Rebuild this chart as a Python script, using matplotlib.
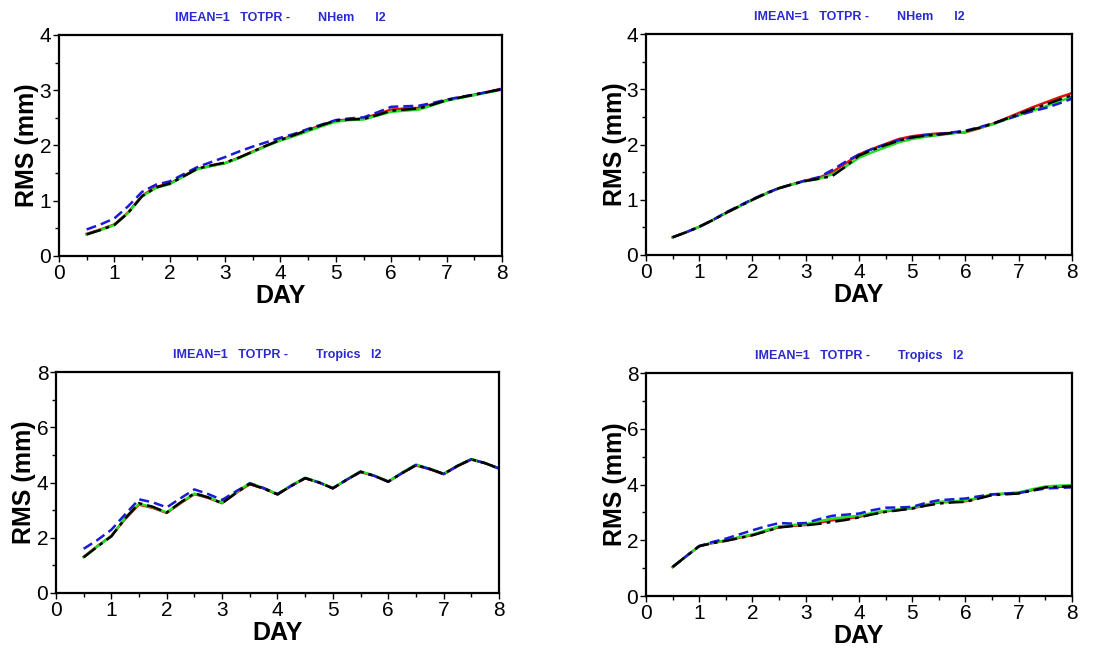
import numpy as np
import matplotlib
matplotlib.use("Agg")
import matplotlib.pyplot as plt
from matplotlib.ticker import MultipleLocator

plt.rcParams['font.family'] = ['Liberation Sans', 'DejaVu Sans']

days = np.arange(0.5, 8.01, 0.25)

# NHem, left column
nh_l_black = [0.39, 0.47, 0.56, 0.78, 1.08, 1.24, 1.31, 1.44, 1.58, 1.64, 1.69, 1.78, 1.89, 2.00, 2.10, 2.19,
              2.28, 2.37, 2.45, 2.47, 2.48, 2.55, 2.63, 2.65, 2.67, 2.74, 2.82, 2.87, 2.92, 2.97, 3.02]
nh_l_red = [0.40, 0.48, 0.57, 0.79, 1.09, 1.25, 1.31, 1.45, 1.58, 1.63, 1.68, 1.78, 1.89, 2.00, 2.10, 2.19,
            2.28, 2.37, 2.45, 2.47, 2.49, 2.57, 2.65, 2.67, 2.68, 2.75, 2.82, 2.87, 2.92, 2.97, 3.03]
nh_l_green = [0.39, 0.47, 0.56, 0.78, 1.08, 1.23, 1.30, 1.44, 1.57, 1.63, 1.68, 1.77, 1.88, 1.99, 2.09, 2.17,
              2.26, 2.35, 2.43, 2.46, 2.47, 2.54, 2.61, 2.63, 2.65, 2.73, 2.81, 2.86, 2.91, 2.96, 3.01]
nh_l_blue = [0.48, 0.57, 0.68, 0.90, 1.16, 1.29, 1.35, 1.48, 1.61, 1.70, 1.79, 1.89, 1.98, 2.06, 2.14, 2.21,
             2.30, 2.38, 2.46, 2.49, 2.51, 2.60, 2.70, 2.71, 2.72, 2.77, 2.83, 2.88, 2.92, 2.97, 3.02]

# NHem, right column
nh_r_black = [0.32, 0.41, 0.51, 0.63, 0.76, 0.88, 1.00, 1.11, 1.21, 1.28, 1.34, 1.38, 1.43, 1.60, 1.80, 1.90,
              1.99, 2.07, 2.13, 2.16, 2.18, 2.21, 2.24, 2.30, 2.37, 2.46, 2.55, 2.64, 2.72, 2.81, 2.89]
nh_r_red = [0.32, 0.41, 0.51, 0.63, 0.76, 0.88, 1.00, 1.11, 1.21, 1.28, 1.35, 1.40, 1.50, 1.66, 1.82, 1.92,
            2.01, 2.10, 2.15, 2.18, 2.20, 2.21, 2.22, 2.29, 2.37, 2.47, 2.57, 2.67, 2.76, 2.85, 2.93]
nh_r_green = [0.32, 0.41, 0.51, 0.63, 0.76, 0.88, 1.00, 1.11, 1.21, 1.28, 1.34, 1.38, 1.46, 1.60, 1.76, 1.86,
              1.95, 2.04, 2.10, 2.14, 2.17, 2.20, 2.23, 2.30, 2.36, 2.45, 2.53, 2.61, 2.69, 2.78, 2.86]
nh_r_blue = [0.32, 0.41, 0.51, 0.63, 0.77, 0.89, 1.01, 1.12, 1.21, 1.28, 1.35, 1.41, 1.54, 1.69, 1.82, 1.92,
             2.00, 2.08, 2.13, 2.17, 2.19, 2.22, 2.25, 2.31, 2.38, 2.45, 2.53, 2.60, 2.66, 2.74, 2.83]

# Tropics, left column
tr_l_black = [1.29, 1.68, 2.05, 2.70, 3.25, 3.12, 2.91, 3.28, 3.61, 3.46, 3.25, 3.62, 3.95, 3.78, 3.57, 3.88,
              4.16, 4.00, 3.79, 4.10, 4.39, 4.24, 4.03, 4.34, 4.63, 4.49, 4.31, 4.60, 4.84, 4.70, 4.51]
tr_l_red = [1.31, 1.70, 2.07, 2.68, 3.20, 3.08, 2.90, 3.25, 3.58, 3.44, 3.25, 3.62, 3.94, 3.78, 3.57, 3.88,
            4.15, 4.00, 3.79, 4.10, 4.38, 4.24, 4.03, 4.34, 4.62, 4.48, 4.30, 4.59, 4.83, 4.70, 4.50]
tr_l_green = [1.30, 1.69, 2.06, 2.72, 3.23, 3.10, 2.92, 3.27, 3.60, 3.46, 3.27, 3.64, 3.98, 3.80, 3.58, 3.90,
              4.17, 4.01, 3.80, 4.11, 4.40, 4.25, 4.04, 4.36, 4.65, 4.50, 4.32, 4.61, 4.85, 4.70, 4.50]
tr_l_blue = [1.60, 1.92, 2.29, 2.85, 3.39, 3.28, 3.10, 3.43, 3.75, 3.58, 3.37, 3.68, 3.97, 3.80, 3.58, 3.88,
             4.16, 4.00, 3.79, 4.10, 4.39, 4.24, 4.03, 4.34, 4.63, 4.49, 4.31, 4.60, 4.84, 4.70, 4.51]

# Tropics, right column
tr_r_black = [1.04, 1.42, 1.79, 1.90, 1.98, 2.08, 2.18, 2.32, 2.46, 2.51, 2.54, 2.59, 2.66, 2.73, 2.82, 2.93,
              3.02, 3.08, 3.14, 3.24, 3.32, 3.36, 3.38, 3.50, 3.62, 3.65, 3.68, 3.79, 3.90, 3.92, 3.94]
tr_r_red = [1.04, 1.42, 1.79, 1.90, 1.99, 2.09, 2.19, 2.33, 2.47, 2.52, 2.55, 2.63, 2.72, 2.77, 2.84, 2.95,
            3.04, 3.09, 3.15, 3.26, 3.36, 3.38, 3.40, 3.52, 3.64, 3.67, 3.70, 3.80, 3.91, 3.92, 3.93]
tr_r_green = [1.04, 1.42, 1.79, 1.91, 2.00, 2.11, 2.21, 2.36, 2.50, 2.55, 2.58, 2.68, 2.78, 2.83, 2.88, 2.98,
              3.06, 3.11, 3.16, 3.28, 3.38, 3.40, 3.42, 3.53, 3.64, 3.68, 3.72, 3.83, 3.93, 3.96, 3.98]
tr_r_blue = [1.04, 1.42, 1.79, 1.94, 2.06, 2.21, 2.36, 2.50, 2.62, 2.60, 2.62, 2.76, 2.88, 2.92, 2.96, 3.08,
             3.17, 3.18, 3.20, 3.34, 3.44, 3.47, 3.50, 3.58, 3.65, 3.68, 3.70, 3.78, 3.86, 3.88, 3.90]

titles = ["IMEAN=1   TOTPR -        NHem      l2",
          "IMEAN=1   TOTPR -        NHem      l2",
          "IMEAN=1   TOTPR -        Tropics   l2",
          "IMEAN=1   TOTPR -        Tropics   l2"]

panels = [
    (nh_l_red, nh_l_green, nh_l_blue, nh_l_black, 4, 0.5),
    (nh_r_red, nh_r_green, nh_r_blue, nh_r_black, 4, 0.5),
    (tr_l_red, tr_l_green, tr_l_blue, tr_l_black, 8, 1),
    (tr_r_red, tr_r_green, tr_r_blue, tr_r_black, 8, 1),
]

# axes rectangles in figure fractions [left, bottom, width, height]
rects = [
    [0.0534, 0.605, 0.4013, 0.341],
    [0.5851, 0.6065, 0.3859, 0.341],
    [0.0507, 0.0849, 0.4013, 0.341],
    [0.5851, 0.0802, 0.3859, 0.344],
]

fig = plt.figure(figsize=(11.04, 6.48), dpi=100)

for i, (red, green, blue, black, ymax, yminor) in enumerate(panels):
    ax = fig.add_axes(rects[i])
    ax.plot(days, red, color='#e01010', lw=1.8, ls='-')
    ax.plot(days, green, color='#20e020', lw=1.8, ls='-')
    ax.plot(days, blue, color='#1a1ad8', lw=1.8, ls=(0, (4, 2)))
    ax.plot(days, black, color='black', lw=1.8, ls=(0, (6, 2, 1.5, 2)))

    ax.set_xlim(0, 8)
    ax.set_ylim(0, ymax)
    ax.xaxis.set_major_locator(MultipleLocator(1))
    ax.xaxis.set_minor_locator(MultipleLocator(0.5))
    ax.yaxis.set_major_locator(MultipleLocator(ymax / 4 if ymax == 8 else 1))
    ax.yaxis.set_minor_locator(MultipleLocator(yminor))
    ax.tick_params(which='major', direction='out', length=4, width=1, labelsize=15, pad=1.5)
    ax.tick_params(which='minor', direction='out', length=3, width=1)
    ax.tick_params(axis='x', which='major', pad=1.5)
    for sp in ax.spines.values():
        sp.set_linewidth(1.6)

    ax.set_title(titles[i], fontsize=9, fontweight='bold', color='#2a2ad0', pad=10)
    ax.set_xlabel("DAY", fontsize=18, fontweight='bold')
    ax.set_ylabel("RMS (mm)", fontsize=18, fontweight='bold')
    ax.xaxis.set_label_coords(0.5, -0.125)
    ax.yaxis.set_label_coords(-0.045, 0.5)

fig.savefig("out.png", dpi=100)
